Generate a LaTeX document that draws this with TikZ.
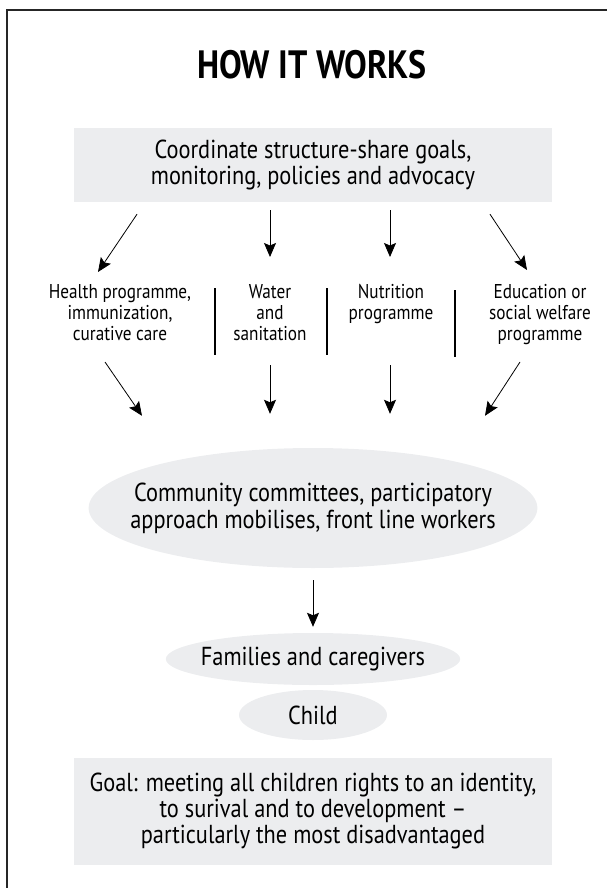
\documentclass[tikz,border=0pt]{standalone}
\usepackage{fontspec}
\setmainfont{PT Sans}[FakeStretch=0.86]
\usepackage{xcolor}
\usetikzlibrary{positioning,arrows.meta,shapes.geometric}
\definecolor{boxgray}{HTML}{ECEDEF}

\begin{document}
\begin{tikzpicture}[x=1pt, y=-1pt, every node/.style={align=center},
  panel/.style={fill=boxgray, minimum width=478pt, inner sep=0pt, font=\fontsize{26}{26}\selectfont},
  oval/.style={ellipse, fill=boxgray, inner sep=0pt, font=\fontsize{26}{27}\selectfont},
  lbl/.style={anchor=north, inner sep=0pt, font=\fontsize{20}{21}\selectfont},
  arr/.style={-{Stealth[length=14pt,width=12pt,inset=2.5pt]}, line width=0.8pt},
  bar/.style={line width=2.5pt}]
\useasboundingbox (0,0) rectangle (607,888);
\draw[line width=1.5pt, draw=black!85] (7,888) -- (7,10) -- (607,10);
\node[font=\bfseries\fontsize{39.5}{40}\selectfont] (title) at (312,65) {HOW IT WORKS};
\node[panel, minimum height=74pt] (coord) at (313,165) {Coordinate structure-share goals,\\monitoring, policies and advocacy};
% programme labels
\node[lbl] (health) at (120,284) {Health programme,\\immunization,\\curative care};
\node[lbl] (water) at (270,284) {Water\\and\\sanitation};
\node[lbl] (nutri) at (391,284) {Nutrition\\programme};
\node[lbl] (edu) at (540,284) {Education or\\social welfare\\programme};
\draw[bar] (215,288) -- (215,355);
\draw[bar] (327,288) -- (327,355);
\draw[bar] (455,290) -- (455,357);
\draw[arr] ([xshift=-176pt,yshift=-12pt]coord.south) -- ([xshift=-22pt,yshift=12pt]health.north);
\draw[arr] ([xshift=-43pt,yshift=-8pt]coord.south) -- ([yshift=27pt]water.north);
\draw[arr] ([xshift=77pt,yshift=-8pt]coord.south) -- ([xshift=-1pt,yshift=27pt]nutri.north);
\draw[arr] ([xshift=177pt,yshift=-12pt]coord.south) -- ([xshift=-13pt,yshift=14pt]edu.north);
% lower levels
\node[oval, inner xsep=-24pt, minimum height=120pt] (comm) at (313,508) {Community committees, participatory\\approach mobilises, front line workers};
\draw[arr] ([xshift=-15pt,yshift=-78pt]health.north) -- ([xshift=-171pt,yshift=32pt]comm.north);
\draw[arr] ([yshift=-81pt]water.north) -- ([xshift=-43pt,yshift=34pt]comm.north);
\draw[arr] ([xshift=-1pt,yshift=-81pt]nutri.north) -- ([xshift=77pt,yshift=34pt]comm.north);
\draw[arr] ([xshift=-20pt,yshift=-78pt]edu.north) -- ([xshift=172pt,yshift=32pt]comm.north);
\node[oval, inner xsep=-8pt, minimum height=52pt] (fam) at (313,659) {Families and caregivers};
\node[oval, minimum width=148pt, minimum height=50pt] (child) at (313,715) {Child};
\draw[arr] ([yshift=-12pt]comm.south) -- ([yshift=6pt]fam.north);
\node[panel, minimum height=107pt] (goal) at (313,811) {Goal: meeting all children rights to an identity,\\to surival and to development --\\particularly the most disadvantaged};
\end{tikzpicture}
\end{document}
